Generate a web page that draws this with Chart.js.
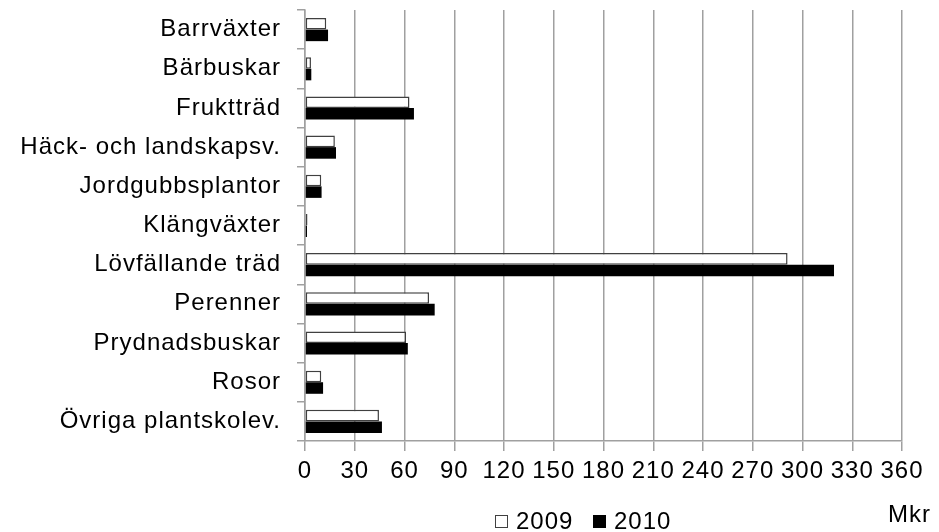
<!DOCTYPE html>
<html>
<head>
<meta charset="utf-8">
<script src="https://cdn.jsdelivr.net/npm/chart.js@4.4.0/dist/chart.umd.min.js"></script>
<style>
  body { margin: 0; background: #fff; }
  #wrap { position: relative; width: 939px; height: 532px; font: 24px "Liberation Sans", Arial, sans-serif; letter-spacing: 1px; color: #000; }
  .txt { position: absolute; line-height: 24px; white-space: nowrap; }
  .box { position: absolute; width: 11px; height: 11px; box-sizing: content-box; }
</style>
</head>
<body>
<div id="wrap">
  <canvas id="chart"></canvas>
  <div id="legend"></div>
  <div class="txt" style="left:888px; top:502px;">Mkr</div>
</div>
<script>
const categories = ["Barrväxter", "Bärbuskar", "Fruktträd", "Häck- och landskapsv.", "Jordgubbsplantor",
    "Klängväxter", "Lövfällande träd", "Perenner", "Prydnadsbuskar", "Rosor", "Övriga plantskolev."];
const values2009 = [12.8, 3.6, 63, 18, 9.8, 1.5, 291, 74.8, 60.9, 9.8, 44.6];
const values2010 = [13.9, 3.8, 65.7, 18.7, 10, 1.2, 319, 78.2, 62, 10.9, 46.4];
const seriesNames = ["2009", "2010"];
const xMax = 360;
const xStep = 30;

Chart.defaults.font.family = '"Liberation Sans", Arial, sans-serif';
Chart.defaults.font.size = 24;
Chart.defaults.color = "#000";

// texten i originalet är lite glesare
const spacing = {
    id: "spacing",
    beforeLayout(chart) { chart.ctx.letterSpacing = "1px"; },
    beforeDraw(chart) { chart.ctx.letterSpacing = "1px"; },
};

const ctx = document.getElementById("chart").getContext("2d");
const chart = new Chart(ctx, {
    type: "bar",
    data: {
        labels: categories,
        datasets: [{
            label: seriesNames[0],
            data: values2009,
            backgroundColor: "#fff",
            borderColor: "#404040",
            borderWidth: 1.5,
            borderSkipped: false,
        }, {
            label: seriesNames[1],
            data: values2010,
            backgroundColor: "#000",
            borderColor: "#000",
            borderWidth: 0,
        }],
    },
    options: {
        indexAxis: "y",
        responsive: true,
        maintainAspectRatio: false,
        animation: false,
        datasets: { bar: { categoryPercentage: 0.59, barPercentage: 1.0 } },
        layout: { padding: { top: 10, right: 37, left: 0, bottom: 31 } },
        scales: {
            x: {
                min: 0,
                max: xMax,
                ticks: { stepSize: xStep, padding: 6 },
                grid: { color: "#a0a0a0", lineWidth: 1.5, tickLength: 10 },
                border: { color: "#a0a0a0", width: 1.5 },
                afterFit: s => { s.height = 60; s.paddingLeft = 0; s.paddingRight = 0; },
            },
            y: {
                ticks: { padding: 16 },
                grid: { offset: true, drawOnChartArea: false, color: "#a0a0a0", lineWidth: 1.5, tickLength: 8 },
                border: { color: "#a0a0a0", width: 1.5 },
                afterFit: s => { s.width = 305; s.paddingTop = 0; s.paddingBottom = 0; },
            },
        },
        plugins: {
            legend: { display: false },
            tooltip: { enabled: false },
        },
    },
    plugins: [spacing],
});

// förklaring under diagrammet, färger från dataseten
const legend = document.getElementById("legend");
const legendX = [495, 593];
chart.data.datasets.forEach((ds, i) => {
    const box = document.createElement("span");
    box.className = "box";
    box.style.left = legendX[i] + "px";
    box.style.top = "515px";
    box.style.background = ds.backgroundColor;
    box.style.border = "1px solid " + ds.borderColor;
    legend.appendChild(box);
    const t = document.createElement("span");
    t.className = "txt";
    t.style.left = (legendX[i] + 21) + "px";
    t.style.top = "509px";
    t.textContent = ds.label;
    legend.appendChild(t);
});
</script>
</body>
</html>
